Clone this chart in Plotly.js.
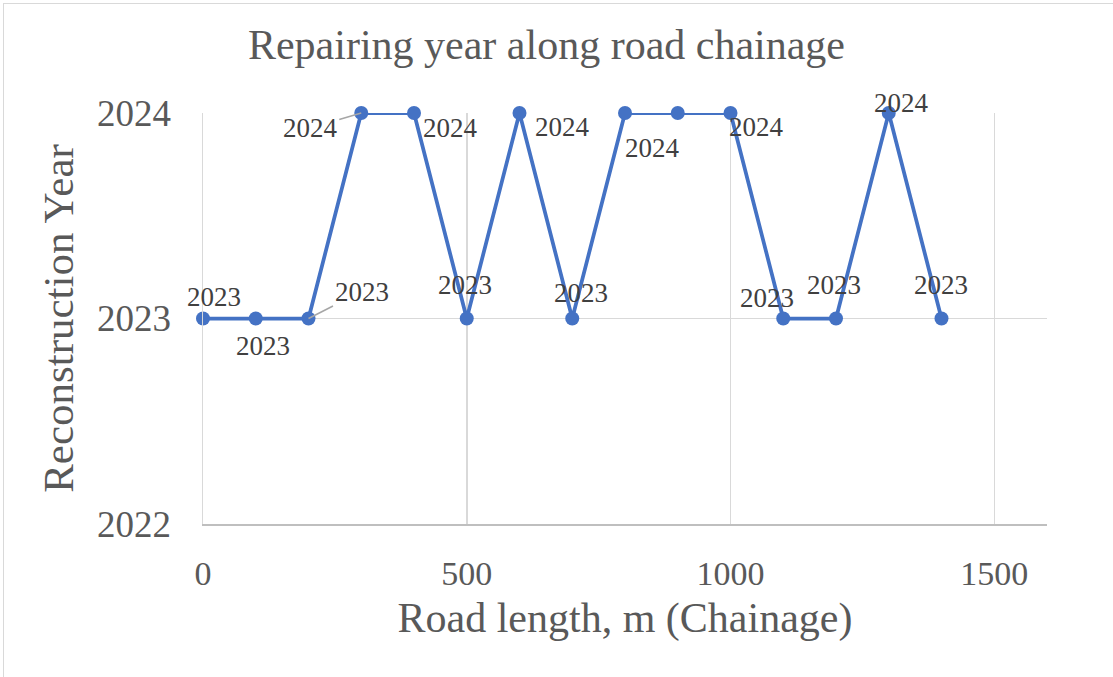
<!DOCTYPE html>
<html><head><meta charset="utf-8">
<script src="https://cdn.plot.ly/plotly-3.0.1.min.js"></script>
<style>body{margin:0;background:#fff}#wrap{position:relative;width:1113px;height:677px}#frame{position:absolute;left:3px;top:3px;width:1200px;height:800px;border-left:1.5px solid #d9d9d9;border-top:1.5px solid #d9d9d9;pointer-events:none}</style>
</head><body><div id="wrap"><div id="chart" style="width:1113px;height:677px"></div><div id="frame"></div></div>
<script>
const chainage = [0,100,200,300,400,500,600,700,800,900,1000,1100,1200,1300,1400];
const repairYear = [2023,2023,2023,2024,2024,2023,2024,2023,2024,2024,2024,2023,2023,2024,2023];
const yTicks = [2022,2023,2024];
const xTicks = [0,500,1000,1500];
const showLabel = [true,true,true,true,true,true,true,true,true,false,true,true,true,true,true];
// label offsets in px (dx, dy) and leader flags
const labelDx = [11,7,53,-51,36,-2,43,9,27,0,26,-16,-2,13,-1];
const labelDy = [-22,27,-27,15,15,-34,14,-26,35,0,14,-21,-34,-10,-34];
const leader = [false,false,true,true,false,false,false,false,false,false,false,false,false,false,false];

const font = 'Liberation Serif, Times New Roman, serif';
const annotations = [];
chainage.forEach((x,i)=>{
  if(!showLabel[i]) return;
  const a = {x:x, y:repairYear[i], xref:'x', yref:'y', text:String(repairYear[i]),
    font:{family:font,size:27,color:'#404040'}};
  if(leader[i]){
    Object.assign(a,{showarrow:true, arrowhead:0, arrowwidth:1.5, arrowcolor:'#a6a6a6', ax:labelDx[i], ay:labelDy[i], standoff:0});
  } else {
    Object.assign(a,{showarrow:false, xshift:labelDx[i], yshift:-labelDy[i]});
  }
  annotations.push(a);
});

Plotly.newPlot('chart',[{
  x:chainage, y:repairYear, type:'scatter', mode:'lines+markers',
  line:{color:'#4472C4',width:3.75}, marker:{color:'#4472C4',size:14}, cliponaxis:false, hoverinfo:'x+y'
}],{
  width:1113,height:677,
  margin:{l:203,r:66,t:113,b:153},
  paper_bgcolor:'#fff', plot_bgcolor:'#fff',
  showlegend:false,
  title:{text:'Repairing year along road chainage', font:{family:font,size:42,color:'#595959'}, x:0.491, xanchor:'center', y:0.935, yanchor:'middle'},
  xaxis:{range:[0,1600], tickvals:xTicks, ticktext:xTicks.map(String), showgrid:true, gridcolor:'#d9d9d9', gridwidth:1.5,
    zeroline:false, showline:true, linecolor:'#bfbfbf', linewidth:2, ticks:'outside', ticklen:18, tickcolor:'rgba(0,0,0,0)',
    tickfont:{family:font,size:34,color:'#595959'},
    title:{text:'Road length, m (Chainage)', font:{family:font,size:42,color:'#595959'}, standoff:12}},
  yaxis:{range:[2022,2024], tickvals:yTicks, ticktext:yTicks.map(String), showgrid:true, gridcolor:'#d9d9d9', gridwidth:1.5,
    zeroline:false, showline:true, linecolor:'#d9d9d9', linewidth:1.5, ticks:'outside', ticklen:23, tickcolor:'rgba(0,0,0,0)',
    tickfont:{family:font,size:37,color:'#595959'},
    title:{text:'Reconstruction Year', font:{family:font,size:43,color:'#595959'}, standoff:10}},
  annotations:annotations
},{displayModeBar:false,staticPlot:true});
</script></body></html>
